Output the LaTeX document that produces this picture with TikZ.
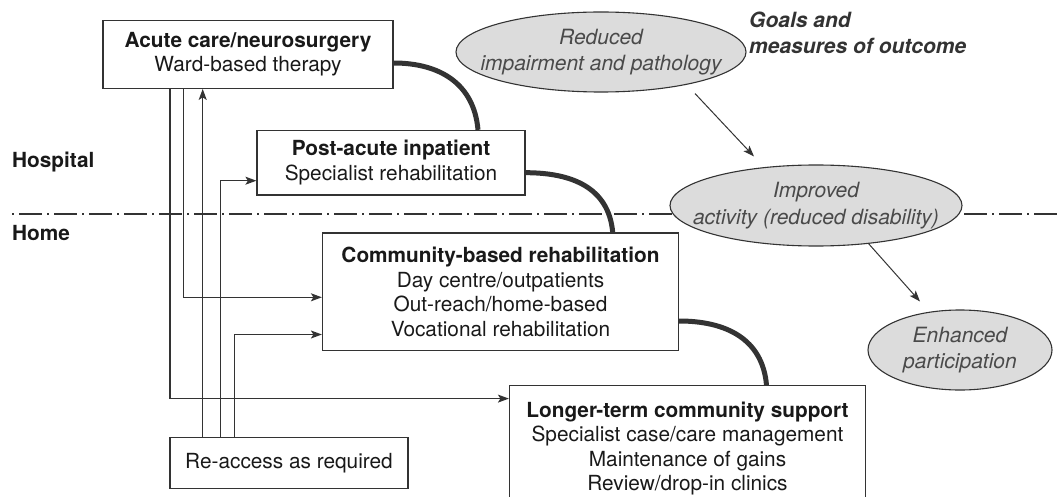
\documentclass[tikz,border=0pt]{standalone}
\usepackage{fontspec}
\setmainfont{TeX Gyre Heros}
\usetikzlibrary{shapes.geometric, positioning, calc, arrows.meta}
\definecolor{inkgray}{HTML}{333333}
\definecolor{ovalfill}{HTML}{DCDCDC}
\definecolor{ovaltext}{HTML}{4A4A4A}
\tikzset{
  box/.style={draw=inkgray, line width=1.2pt, inner sep=0pt, align=center, text=black!90,
    font=\fontsize{20.8}{24.5}\selectfont},
  oval/.style={ellipse, draw=inkgray, line width=1.1pt, fill=ovalfill, inner xsep=-45pt, inner ysep=-12pt,
    align=center, text=ovaltext, font=\fontsize{21}{26.5}\selectfont\itshape},
  link/.style={draw=inkgray, line width=1.2pt, -{Stealth[length=11pt,width=8pt,inset=2.5pt]}},
  pathway/.style={draw=inkgray, line width=5pt},
}

\begin{document}
\begin{tikzpicture}[x=1pt,y=1pt]
  \useasboundingbox (0,0) rectangle (1059,-497);
  %linea ospedale/casa
  \draw[inkgray, line width=1.1pt, dash pattern=on 2pt off 5pt on 23pt off 5pt] (12,-214) -- (1059,-214);
  \node[anchor=west, inner sep=0pt, text=black!90, font=\fontsize{20.8}{24}\selectfont\bfseries] (hospital) at (12,-162) {Hospital};
  \node[anchor=west, inner sep=0pt, text=black!90, font=\fontsize{20.8}{24}\selectfont\bfseries] (home) at (12,-233) {Home};

  %servizi
  \node[box, minimum width=290, minimum height=68] (acute) at (248,-54.3) {\textbf{Acute care/neurosurgery}\\Ward-based therapy};
  \node[box, minimum width=268, minimum height=64.5] (postacute) at (391,-162.7) {\textbf{Post-acute inpatient}\\Specialist rehabilitation};
  \node[box, minimum width=356, minimum height=117.5] (community) at (500.5,-291.8) {\textbf{Community-based rehabilitation}\\Day centre/outpatients\\Out-reach/home-based\\Vocational rehabilitation};
  \node[box, anchor=north, minimum width=356, inner ysep=16pt] (longterm) at (687.5,-385) {\textbf{Longer-term community support}\\Specialist case/care management\\Maintenance of gains\\Review/drop-in clinics};
  \node[box, minimum width=238, minimum height=51.5] (reaccess) at (289,-463) {Re-access as required};

  %obiettivi
  \node[anchor=north west, inner sep=0pt, align=left, text=inkgray, font=\fontsize{21}{26}\selectfont\bfseries\itshape] (goals) at (749,-11.5) {Goals and\\measures of outcome};
  \node[oval, minimum width=290, minimum height=80] (reduced) at (601,-52) {Reduced\\impairment and pathology};
  \node[oval, minimum width=292, minimum height=81] (improved) at (816,-205.5) {Improved\\activity (reduced disability)};
  \node[oval, minimum width=184, minimum height=80] (enhanced) at (960,-350) {Enhanced\\participation};

  %percorso principale
  \draw[pathway] ([yshift=-8.7]acute.east) to[out=0,in=95,looseness=1.1] ([xshift=87]postacute.north);
  \draw[pathway] ([yshift=-10]postacute.east) to[out=0,in=95,looseness=1.1] ([xshift=112.2]community.north);
  \draw[pathway] ([yshift=-29.2]community.east) to[out=0,in=95,looseness=1.1] ([xshift=79]longterm.north);

  %frecce di accesso
  \coordinate (acA) at ([xshift=-78]acute.south);
  \coordinate (acB) at ([xshift=-64.6]acute.south);
  \coordinate (raA) at ([xshift=-86.3]reaccess.north);
  \coordinate (raB) at ([xshift=-68.7]reaccess.north);
  \coordinate (raC) at ([xshift=-54.2]reaccess.north);
  \draw[link] (acA) |- ([yshift=-13.6]longterm.north west);
  \draw[link] (acB) |- ([yshift=-5.5]community.west);
  \draw[link] (raA) -- (raA |- acute.south);
  \draw[link] (raB) |- ([yshift=-18]postacute.west);
  \draw[link] (raC) |- ([yshift=-42.7]community.west);

  %frecce esiti
  \draw[link, line width=1pt] ($(reduced.south)+(94,-1)$) -- ($(improved.north)+(-62,8)$);
  \draw[link, line width=1pt] (improved.-36) -- ($(enhanced.north)+(-40,8)$);
\end{tikzpicture}
\end{document}
